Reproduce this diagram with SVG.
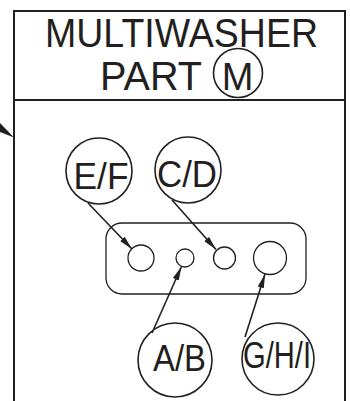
<svg xmlns="http://www.w3.org/2000/svg" width="350" height="401" viewBox="0 0 350 401">
<style>
.frame{fill:none;stroke:#231f20;stroke-width:2}
.bub{fill:none;stroke:#231f20;stroke-width:1.6}
.hole{fill:#fff;stroke:#231f20;stroke-width:1.3}
.lbl{font-family:"Liberation Sans",Arial,sans-serif;fill:#231f20;text-anchor:middle}
.con{fill:none;stroke:#231f20;stroke-width:1.6}
</style>
<defs>
<marker id="ah" markerUnits="userSpaceOnUse" markerWidth="15" markerHeight="8" refX="14" refY="4" orient="auto">
<path d="M0,0.8 L14,4 L0,7.2 z" fill="#231f20"/>
</marker>
</defs>
<rect width="350" height="401" fill="#fff"/>
<g id="frame">
<path class="frame" d="M14,405 V11 H345 V405"/>
<line class="frame" x1="14" y1="100" x2="345" y2="100"/>
</g>
<g id="title">
<text class="lbl" x="181.5" y="47" font-size="40" textLength="273" lengthAdjust="spacingAndGlyphs">MULTIWASHER</text>
<text class="lbl" x="151" y="90" font-size="40" textLength="102" lengthAdjust="spacingAndGlyphs">PART</text>
<circle class="bub" cx="238" cy="73" r="24.5"/>
<text class="lbl" x="237.5" y="90" font-size="38">M</text>
</g>
<g id="plate">
<rect class="hole" x="106" y="223" width="200" height="71" rx="16"/>
<circle class="hole" cx="141" cy="258" r="13"/>
<circle class="hole" cx="185" cy="258" r="9"/>
<circle class="hole" cx="224.5" cy="258" r="11"/>
<circle class="hole" cx="270" cy="258" r="16.5"/>
</g>
<g id="EF">
<circle class="bub" cx="99" cy="171" r="33"/>
<text class="lbl" x="101" y="188.5" font-size="36" textLength="55" lengthAdjust="spacingAndGlyphs">E/F</text>
</g>
<g id="CD">
<circle class="bub" cx="188" cy="170" r="33"/>
<text class="lbl" x="187" y="186.5" font-size="36" textLength="60" lengthAdjust="spacingAndGlyphs">C/D</text>
</g>
<g id="AB">
<circle class="bub" cx="175" cy="360" r="37"/>
<text class="lbl" x="179.5" y="371" font-size="36" textLength="53" lengthAdjust="spacingAndGlyphs">A/B</text>
</g>
<g id="GHI">
<circle class="bub" cx="278" cy="359" r="36"/>
<text class="lbl" x="277" y="368" font-size="36" textLength="68" lengthAdjust="spacingAndGlyphs">G/H/I</text>
</g>
<g id="connectors">
<line class="con" x1="-8" y1="119" x2="6" y2="131"/>
<polygon points="-1,122 14,137.5 -1,131.5" fill="#231f20"/>
<line class="con" x1="88" y1="203" x2="132" y2="249" marker-end="url(#ah)"/>
<line class="con" x1="172" y1="200" x2="216" y2="249.5" marker-end="url(#ah)"/>
<line class="con" x1="152" y1="333" x2="181.5" y2="266.5" marker-end="url(#ah)"/>
<line class="con" x1="245" y1="337" x2="265" y2="274" marker-end="url(#ah)"/>
</g>
</svg>
